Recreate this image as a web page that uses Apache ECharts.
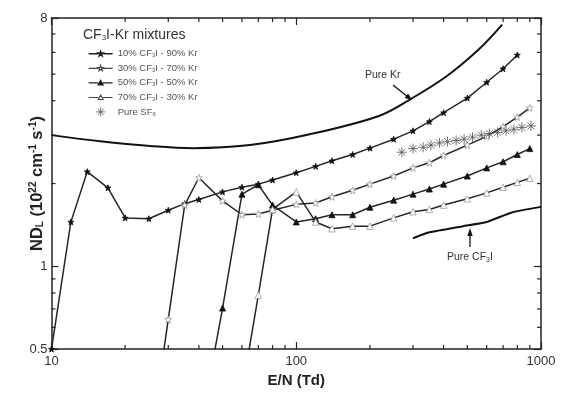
<!DOCTYPE html>
<html><head><meta charset="utf-8">
<script src="https://cdn.jsdelivr.net/npm/echarts@6/dist/echarts.min.js"></script>
<style>html,body{margin:0;padding:0;background:#fff}#c{width:566px;height:393px}</style>
</head><body><div id="c"></div>
<script>
// ---- axis ranges / ticks ----
const xRange = [10, 1000];
const yRange = [0.5, 8];
const xMinorTicks = [20,30,40,50,60,70,80,90,200,300,400,500,600,700,800,900];
const yMinorTicks = [0.6,0.7,0.8,0.9,2,3,4,5,6,7];
const yLabelTicks = [0.5, 1, 8];
const xLabelTicks = [10, 100, 1000];

// ---- series names ----
const names = ['10% CF3I - 90% Kr','30% CF3I - 70% Kr','50% CF3I - 50% Kr','70% CF3I - 30% Kr','Pure SF6'];

// ---- data ----
const kr_x = [10,15.8,25.3,37.9,64.7,113.5,219,298,410,559,694];
const kr_y = [3.0,2.85,2.74,2.69,2.76,3.02,3.53,4.09,4.90,6.17,7.57];

const cf3i_x = [300,350,480,600,760,1000];
const cf3i_y = [1.265,1.33,1.40,1.45,1.57,1.645];

const m10_x = [10,12,14,17,20,25,30,35,40,50,60,70,80,100,120,140,170,200,250,300,350,400,500,600,700,800];
const m10_y = [0.5,1.45,2.21,1.93,1.50,1.49,1.60,1.69,1.75,1.865,1.94,1.99,2.06,2.19,2.31,2.42,2.55,2.69,2.90,3.11,3.36,3.62,4.09,4.67,5.23,5.87];

const m30_x = [25,30,35,40,50,60,70,80,100,120,140,170,200,250,300,350,400,500,600,700,800,900];
const m30_y = [0.21,0.641,1.67,2.10,1.73,1.54,1.55,1.60,1.68,1.70,1.79,1.89,1.99,2.13,2.28,2.38,2.53,2.76,2.97,3.22,3.49,3.77];

const m50_x = [45,50,60,70,80,100,120,140,170,200,250,300,350,400,500,600,700,800,900];
const m50_y = [0.424,0.705,1.83,1.98,1.67,1.45,1.49,1.54,1.54,1.64,1.74,1.83,1.91,1.99,2.13,2.28,2.40,2.55,2.68];

const m70_x = [60,70,80,100,120,140,170,200,250,300,350,400,500,600,700,800,900];
const m70_y = [0.35,0.786,1.61,1.865,1.45,1.37,1.40,1.40,1.50,1.58,1.61,1.67,1.76,1.85,1.94,2.02,2.09];

const sf6_x = [270,300,330,355,385,415,450,485,525,570,615,665,720,775,835,910];
const sf6_y = [2.60,2.68,2.71,2.76,2.81,2.84,2.87,2.90,2.95,3.00,3.04,3.07,3.11,3.15,3.20,3.24];

const zip = (xs, ys) => xs.map((x, i) => [x, ys[i]]);

const FONT = "'Liberation Sans', Arial, sans-serif";
const STAR = 'path://M0,-10L2.35,-3.24L9.51,-3.09L3.8,1.24L5.88,8.09L0,4L-5.88,8.09L-3.8,1.24L-9.51,-3.09L-2.35,-3.24Z';
const ASTER = 'path://M0,-10L0,10M-10,0L10,0M-7.07,-7.07L7.07,7.07M-7.07,7.07L7.07,-7.07';
// legend icons: line with a small marker in the middle
const LEG_STAR = 'path://M0,4.5L9.3,4.5M14.7,4.5L24,4.5M12,1.7L12.647,3.61L14.663,3.635L13.046,4.84L13.646,6.765L12,5.6L10.354,6.765L10.954,4.84L9.337,3.635L11.353,3.61Z';
const LEG_TRI = 'path://M0,4.5L9.6,4.5M14.4,4.5L24,4.5M12,2.1L14.5,6.6L9.5,6.6Z';
const SF6_STYLE = { color: 'rgba(0,0,0,0)', borderColor: '#555', borderWidth: 1 };

function mixSeries(name, data, symbol, size, fill, border) {
  return {
    name, type: 'line', data, symbol, symbolSize: size, showAllSymbol: true, clip: true,
    lineStyle: { color: '#262626', width: 1.5 },
    itemStyle: { color: fill, borderColor: border, borderWidth: 0.8 },
    emphasis: { disabled: true }, z: 3
  };
}

const chart = echarts.init(document.getElementById('c'), null, { renderer: 'canvas' });

const axisLineStyle = { lineStyle: { color: '#222', width: 1.5 } };

const option = {
  animation: false,
  backgroundColor: '#fff',
  textStyle: { fontFamily: FONT },
  title: {
    text: 'CF{s|3}I-Kr mixtures',
    left: 78, top: 23,
    textStyle: {
      fontFamily: FONT, fontSize: 14, fontWeight: 'normal', color: '#333',
      rich: { s: { fontFamily: FONT, fontSize: 8, color: '#333', verticalAlign: 'bottom', padding: [6, 0, 0, 0] } }
    }
  },
  legend: {
    data: [
      { name: names[0], icon: LEG_STAR, itemStyle: { color: '#111', borderColor: '#222', borderWidth: 1.3 } },
      { name: names[1], icon: LEG_STAR, itemStyle: { color: '#fff', borderColor: '#444', borderWidth: 1.1 } },
      { name: names[2], icon: LEG_TRI, itemStyle: { color: '#111', borderColor: '#222', borderWidth: 1.3 } },
      { name: names[3], icon: LEG_TRI, itemStyle: { color: '#fff', borderColor: '#444', borderWidth: 1.1 } },
      { name: names[4], icon: ASTER, itemStyle: SF6_STYLE }
    ],
    left: 83, top: 43.5, orient: 'vertical',
    itemWidth: 24, itemHeight: 9, itemGap: 4.6,
    selectedMode: false,
    textStyle: {
      fontFamily: FONT, fontSize: 9.5, color: '#555',
      rich: { s: { fontFamily: FONT, fontSize: 6, color: '#555', verticalAlign: 'bottom', padding: [4, 0, 0, 0] } }
    },
    formatter: n => n.replace('CF3I', 'CF{s|3}I').replace('SF6', 'SF{s|6}')
  },
  grid: { left: 51.5, right: 25, top: 18, bottom: 37, containLabel: false },
  xAxis: [{
    type: 'log', logBase: 10, min: xRange[0], max: xRange[1],
    name: 'E/N (Td)', nameLocation: 'middle', nameGap: 22,
    nameTextStyle: { fontFamily: FONT, fontSize: 15, fontWeight: 'bold', color: '#222' },
    axisLine: axisLineStyle,
    axisTick: { inside: true, length: 7, lineStyle: { color: '#222', width: 1.2 } },
    axisLabel: { fontFamily: FONT, fontSize: 13, color: '#333', margin: 6,
      formatter: v => xLabelTicks.some(t => Math.abs(t - v) / t < 1e-6) ? String(v) : '' },
    splitLine: { show: false }
  }, {
    type: 'log', logBase: 10, min: xRange[0], max: xRange[1], position: 'top',
    axisLine: axisLineStyle,
    axisTick: { inside: true, length: 7, lineStyle: { color: '#222', width: 1.2 } },
    axisLabel: { show: false }, splitLine: { show: false }
  }],
  yAxis: [{
    type: 'log', logBase: 10, min: yRange[0], max: yRange[1],
    name: 'ND{sub|L} (10{sup|22} cm{sup|-1} s{sup|-1})',
    nameLocation: 'middle', nameGap: 6, nameMoveOverlap: false,
    nameTextStyle: {
      fontFamily: FONT, fontSize: 16.5, fontWeight: 'bold', color: '#222',
      rich: {
        sub: { fontFamily: FONT, fontSize: 10, fontWeight: 'bold', color: '#222', verticalAlign: 'bottom', padding: [7, 0, 0, 0] },
        sup: { fontFamily: FONT, fontSize: 10, fontWeight: 'bold', color: '#222', verticalAlign: 'top', padding: [0, 0, 7, 0] }
      }
    },
    axisLine: axisLineStyle,
    axisTick: { inside: true, length: 7, lineStyle: { color: '#222', width: 1.2 } },
    axisLabel: { fontFamily: FONT, fontSize: 13, color: '#333', margin: 4, showMinLabel: true, showMaxLabel: true,
      formatter: v => yLabelTicks.some(t => Math.abs(t - v) / t < 1e-6) ? String(v) : '' },
    splitLine: { show: false }
  }, {
    type: 'log', logBase: 10, min: yRange[0], max: yRange[1], position: 'right',
    axisLine: axisLineStyle,
    axisTick: { inside: true, length: 7, lineStyle: { color: '#222', width: 1.2 } },
    axisLabel: { show: false }, splitLine: { show: false }
  }],
  series: [
    mixSeries(names[0], zip(m10_x, m10_y), STAR, 6, '#111', '#111'),
    mixSeries(names[1], zip(m30_x, m30_y), STAR, 7, '#fff', '#999'),
    mixSeries(names[2], zip(m50_x, m50_y), 'triangle', 6, '#111', '#111'),
    mixSeries(names[3], zip(m70_x, m70_y), 'triangle', 6.5, '#fff', '#999'),
    {
      name: names[4], type: 'scatter', data: zip(sf6_x, sf6_y),
      symbol: ASTER, symbolSize: 10,
      itemStyle: SF6_STYLE,
      emphasis: { disabled: true }, z: 4
    },
    {
      name: 'Pure Kr', type: 'line', data: zip(kr_x, kr_y), smooth: 0.35, symbol: 'none',
      lineStyle: { color: '#111', width: 2 }, emphasis: { disabled: true }, z: 3
    },
    {
      name: 'Pure CF3I', type: 'line', data: zip(cf3i_x, cf3i_y), smooth: 0.15, symbol: 'none',
      lineStyle: { color: '#111', width: 2 }, emphasis: { disabled: true }, z: 3
    },
    {
      // minor ticks on bottom and top axes
      type: 'custom', silent: true, clip: false, z: 6,
      data: xMinorTicks.map(v => [v, yRange[0]]),
      renderItem: (params, api) => {
        const x = api.value(0);
        const b = api.coord([x, yRange[0]]);
        const t = api.coord([x, yRange[1]]);
        return { type: 'group', children: [
          { type: 'line', shape: { x1: b[0], y1: b[1], x2: b[0], y2: b[1] - 4 }, style: { stroke: '#222', lineWidth: 1.2 } },
          { type: 'line', shape: { x1: t[0], y1: t[1], x2: t[0], y2: t[1] + 4 }, style: { stroke: '#222', lineWidth: 1.2 } }
        ] };
      }
    },
    {
      // minor ticks on left and right axes
      type: 'custom', silent: true, clip: false, z: 6,
      data: yMinorTicks.map(v => [xRange[0], v]),
      renderItem: (params, api) => {
        const y = api.value(1);
        const l = api.coord([xRange[0], y]);
        const r = api.coord([xRange[1], y]);
        return { type: 'group', children: [
          { type: 'line', shape: { x1: l[0], y1: l[1], x2: l[0] + 4, y2: l[1] }, style: { stroke: '#222', lineWidth: 1.2 } },
          { type: 'line', shape: { x1: r[0], y1: r[1], x2: r[0] - 4, y2: r[1] }, style: { stroke: '#222', lineWidth: 1.2 } }
        ] };
      }
    }
  ],
  graphic: [
    { type: 'text', left: 365, top: 70, style: { text: 'Pure Kr', font: "10.5px " + FONT, fill: '#333' } },
    { type: 'line', shape: { x1: 393, y1: 85, x2: 408, y2: 97 }, style: { stroke: '#111', lineWidth: 1.3 } },
    { type: 'polygon', shape: { points: [[412, 100], [404.6, 97.9], [408.1, 93.4]] }, style: { fill: '#111' } },
    { type: 'text', left: 447, top: 252, style: {
        text: 'Pure CF{s|3}I', font: "10.5px " + FONT, fill: '#333',
        rich: { s: { font: "7px " + FONT, fill: '#333', verticalAlign: 'bottom', padding: [5, 0, 0, 0] } } } },
    { type: 'line', shape: { x1: 470, y1: 247, x2: 470, y2: 234 }, style: { stroke: '#111', lineWidth: 1.3 } },
    { type: 'polygon', shape: { points: [[470, 228], [467.3, 236], [472.7, 236]] }, style: { fill: '#111' } }
  ]
};
chart.setOption(option);
</script>
</body></html>
